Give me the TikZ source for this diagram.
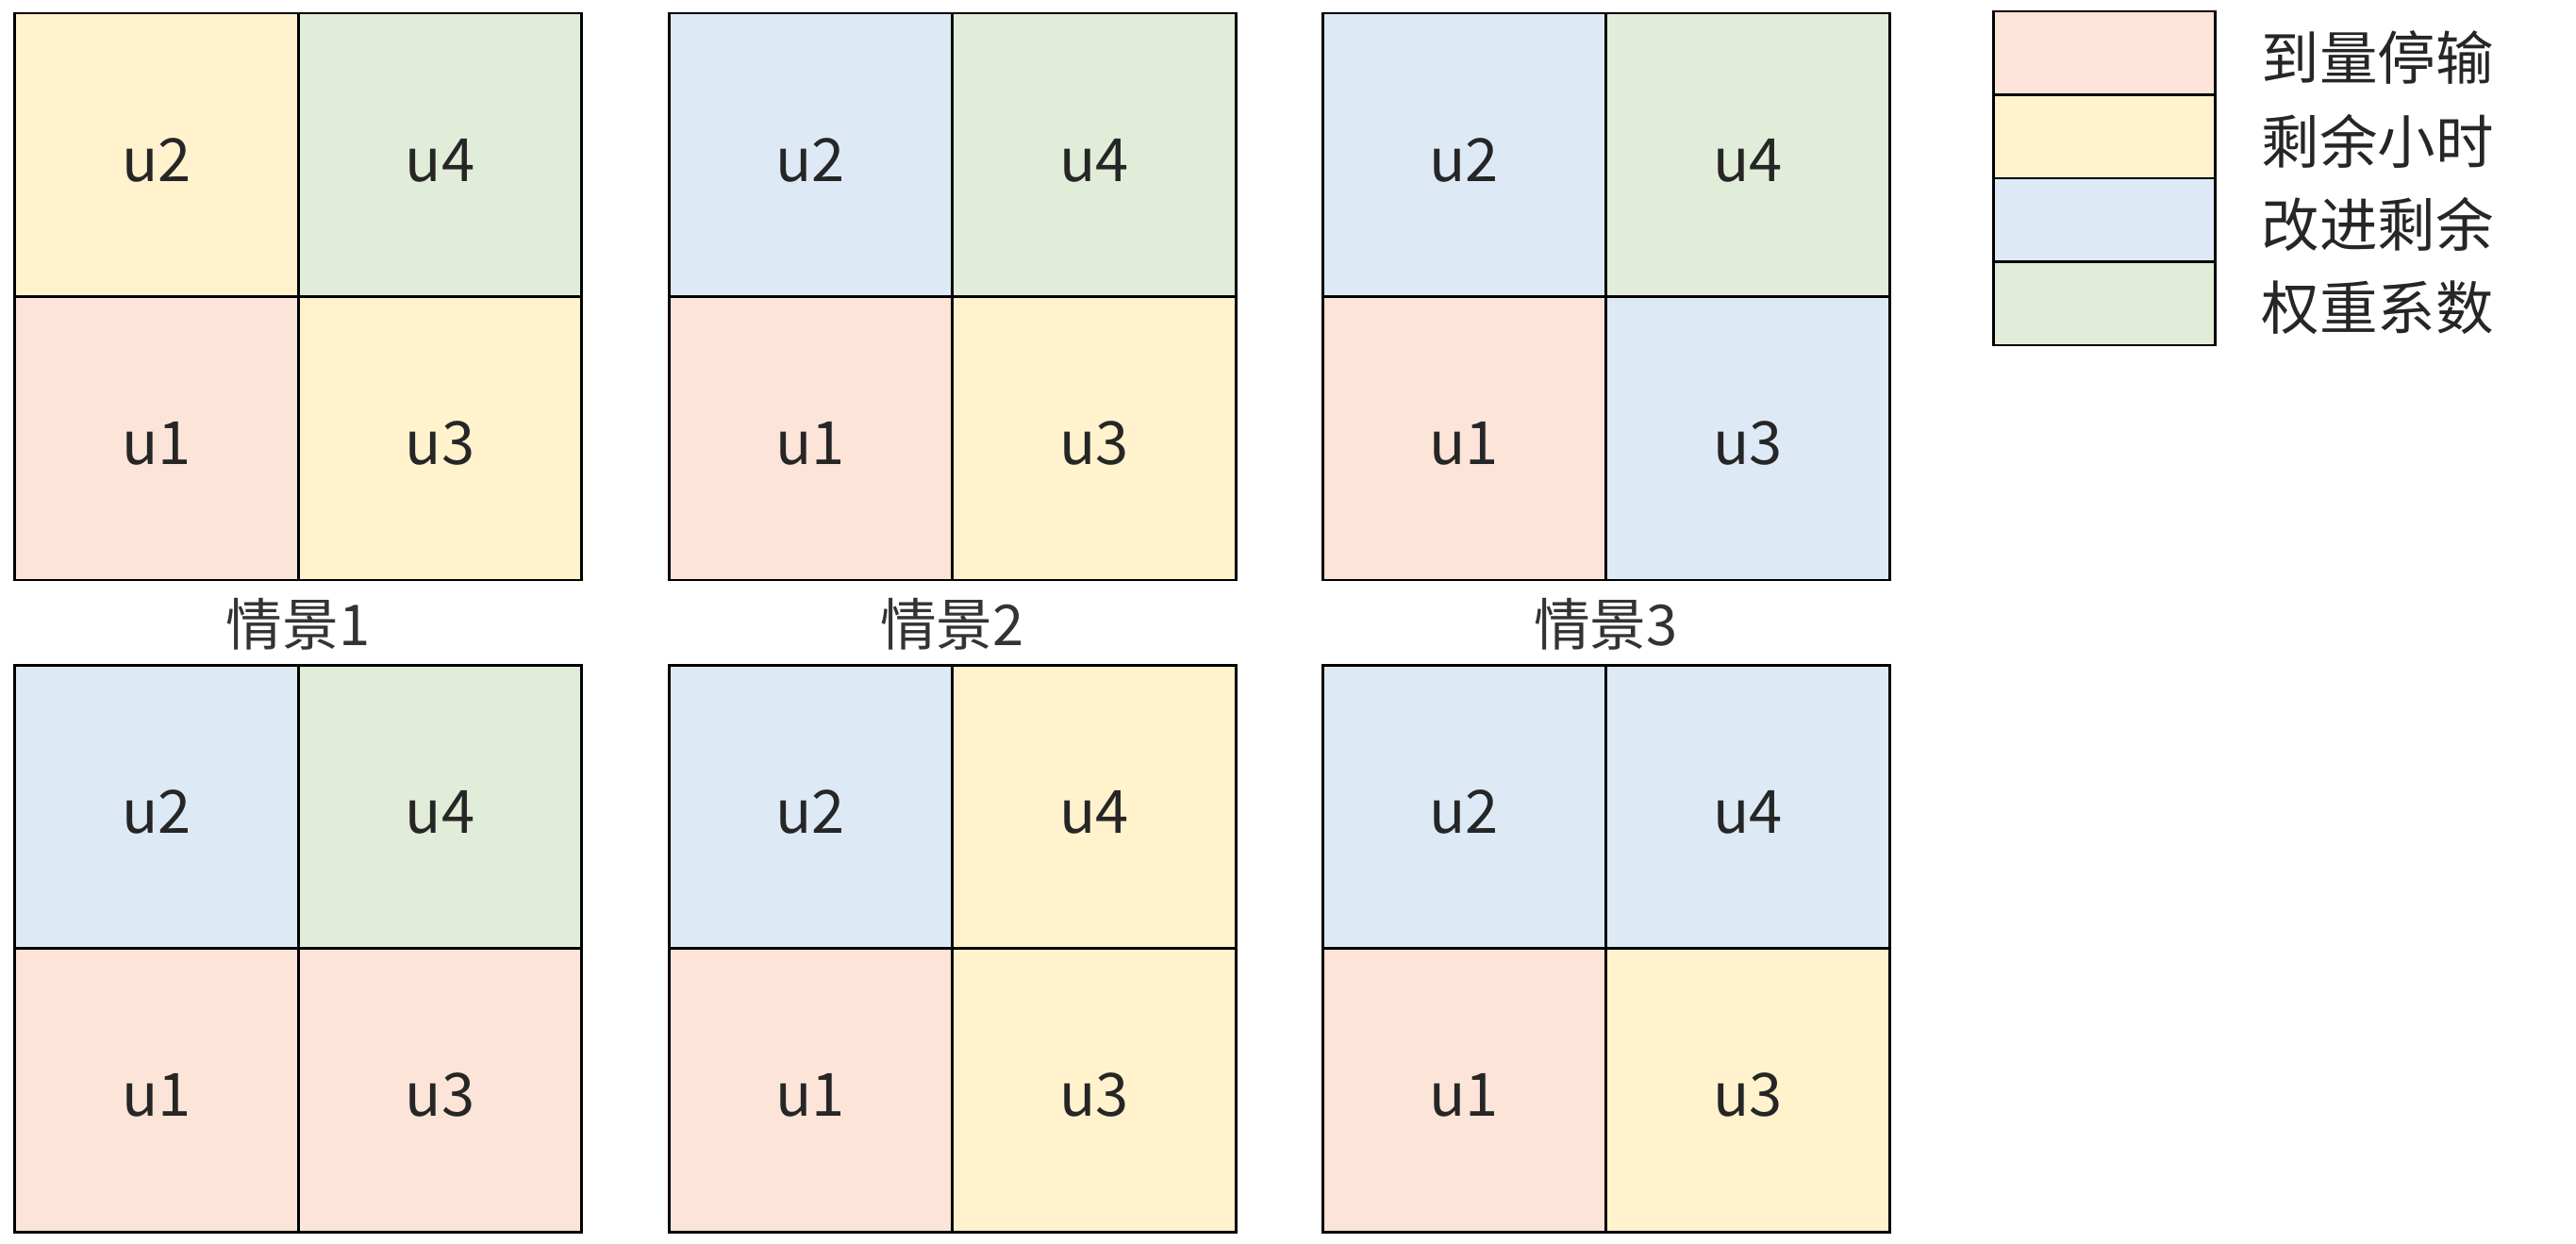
\documentclass[tikz,border=0pt]{standalone}
\usepackage{fontspec}
\setmainfont{Noto Sans CJK SC}
\usetikzlibrary{positioning}

\definecolor{peach}{RGB}{253,228,216}
\definecolor{sand}{RGB}{255,242,205}
\definecolor{sky}{RGB}{221,234,246}
\definecolor{sage}{RGB}{225,237,216}

\tikzset{
  cell/.style={draw, line width=0.85pt, minimum size=3.005cm, inner sep=0pt, outer sep=0pt,
    text height=0.57cm, text=black!85, font=\fontsize{18}{20}\selectfont},
  key/.style={draw, line width=0.85pt, minimum width=2.35cm, minimum height=0.885cm,
    inner sep=0pt, outer sep=0pt},
  keytext/.style={inner sep=0pt, yshift=-0.05cm, text=black!85, font=\fontsize{17.5}{20}\selectfont},
  scene/.style={inner sep=0pt, text=black!80, font=\fontsize{17}{20}\selectfont}
}

\begin{document}
\begin{tikzpicture}
        \useasboundingbox (0,0) rectangle (27.31,13.18);
        % grids: name / lower left / colours of u1 u2 u3 u4
        \foreach \g/\x/\y/\ca/\cb/\cc/\cd in {
            a/0.157/7.03/peach/sand/sand/sage,
            b/7.09/7.03/peach/sky/sand/sage,
            c/14.02/7.03/peach/sky/sky/sage,
            d/0.157/0.12/peach/sky/peach/sage,
            e/7.09/0.12/peach/sky/sand/sand,
            f/14.02/0.12/peach/sky/sand/sky}{
            \node[cell, fill=\ca, anchor=south west] (\g-u1) at (\x,\y) {u1};
            \node[cell, fill=\cb, above=0pt of \g-u1] (\g-u2) {u2};
            \node[cell, fill=\cc, right=0pt of \g-u1] (\g-u3) {u3};
            \node[cell, fill=\cd, above=0pt of \g-u3] (\g-u4) {u4};
        }
        \path (a-u1.south east) ++(0,-0.47) node[scene] (s1) {情景1};
        \path (b-u1.south east) ++(0,-0.47) node[scene] (s2) {情景2};
        \path (c-u1.south east) ++(0,-0.47) node[scene] (s3) {情景3};
        % legend
        \node[key, fill=peach, anchor=north west] (k1) at (21.13,13.06) {};
        \node[key, fill=sand, below=0pt of k1] (k2) {};
        \node[key, fill=sky, below=0pt of k2] (k3) {};
        \node[key, fill=sage, below=0pt of k3] (k4) {};
        \node[keytext, right=0.49cm of k1] (t1) {到量停输};
        \node[keytext, right=0.49cm of k2] (t2) {剩余小时};
        \node[keytext, right=0.49cm of k3] (t3) {改进剩余};
        \node[keytext, right=0.49cm of k4] (t4) {权重系数};
    \end{tikzpicture}
\end{document}
